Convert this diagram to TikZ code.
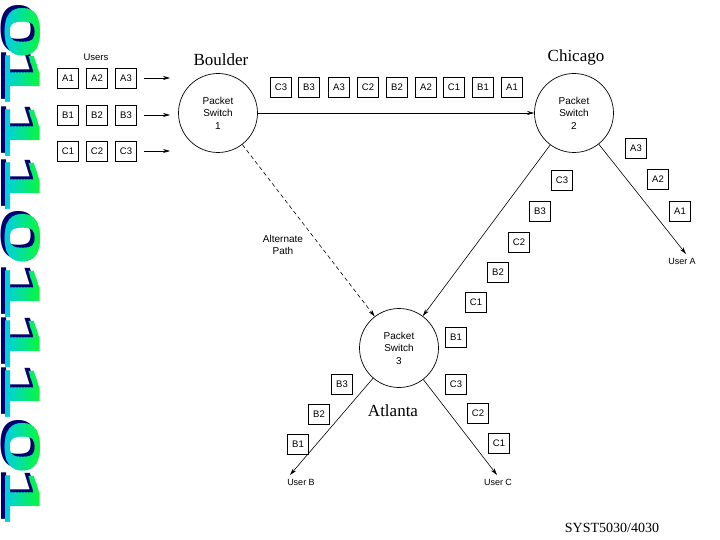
\documentclass[tikz,border=0pt]{standalone}
\usepackage{fontspec}
\setmainfont{Liberation Serif}
\newfontfamily\lab{Liberation Sans}
\usetikzlibrary{arrows.meta}
\definecolor{navyd}{RGB}{0,0,110}
\definecolor{cyanl}{RGB}{0,200,250}
\definecolor{greenr}{RGB}{10,252,40}
\begin{document}
\begin{tikzpicture}[x=1pt,y=-1pt,
  pkt/.style={draw, line width=0.75pt, minimum width=21pt, minimum height=20pt, inner sep=0pt, font=\lab\fontsize{9.5}{10}\selectfont},
  sw/.style={circle, draw, line width=0.7pt, minimum size=79pt, inner sep=0pt, align=center, font=\lab\fontsize{10}{12.5}\selectfont},
  arr/.style={line width=0.6pt, -{Stealth[length=7pt,width=4pt]}},
  city/.style={inner sep=0pt, font=\fontsize{17}{20}\selectfont},
  lbl/.style={inner sep=0pt, align=center, font=\lab\fontsize{9}{12}\selectfont},
  dig/.style={rotate=-90, inner sep=0pt, font=\lab\bfseries\fontsize{50}{50}\selectfont}]
\useasboundingbox (0,0) rectangle (720,540);
% left binary decoration
\foreach \d/\y [count=\i] in {0/32,1/77,1/131,1/184,0/238,1/292,1/342,1/392,0/447,1/497}{
  \node[dig, text=navyd] (sh\i) at (19,\y-3) {\scalebox{2}[1]{\d}};
}
\foreach \k in {0,...,14}{
  \pgfmathsetmacro\pc{100*\k/14}
  \begin{scope}
    \clip (\k*3,0) rectangle (\k*3+3.3,540);
    \foreach \d/\y [count=\i] in {0/32,1/77,1/131,1/184,0/238,1/292,1/342,1/392,0/447,1/497}{
      \node[dig, text=greenr!\pc!cyanl] (g\k-\i) at (23,\y) {\scalebox{2}[1]{\d}};
    }
  \end{scope}
}
% users
\node[lbl, font=\lab\fontsize{9.5}{12}\selectfont] (users) at (96,57) {Users};
\node[pkt] (ua1) at (68,78) {A1};
\node[pkt] (ua2) at (97,78) {A2};
\node[pkt] (ua3) at (126,78) {A3};
\node[pkt] (ub1) at (68,115) {B1};
\node[pkt] (ub2) at (97,115) {B2};
\node[pkt] (ub3) at (126,115) {B3};
\node[pkt] (uc1) at (68,151) {C1};
\node[pkt] (uc2) at (97,151) {C2};
\node[pkt] (uc3) at (126,151) {C3};
\coordinate (as) at (144,78); \coordinate (ae) at (170,78);
\coordinate (bs) at (144,115); \coordinate (be) at (170,115);
\coordinate (cs) at (144,151); \coordinate (ce) at (170,151);
\draw[arr] (as) -- (ae);
\draw[arr] (bs) -- (be);
\draw[arr] (cs) -- (ce);
% switches
\node[sw] (ps1) at (218,113) {Packet\\Switch\\1};
\node[sw] (ps2) at (574,113) {Packet\\Switch\\2};
\node[sw] (ps3) at (399,348) {Packet\\Switch\\3};
\node[city] (boulder) at (221,60) {Boulder};
\node[city] (chicago) at (576,57) {Chicago};
\node[city] (atlanta) at (393,411) {Atlanta};
\node[inner sep=0pt, font=\fontsize{14}{16}\selectfont] (syst) at (612,528) {SYST5030/4030};
% links
\draw[arr] (ps1) -- (ps2);
\draw[arr, dashed, dash pattern=on 4pt off 3pt] (ps1) -- (ps3);
\draw[arr] (ps2) -- (ps3);
\coordinate (usera) at (686,254);
\coordinate (userb) at (290,475);
\coordinate (userc) at (497,475);
\draw[arr] (ps2) -- (usera);
\draw[arr] (ps3) -- (userb);
\draw[arr] (ps3) -- (userc);
\node[lbl] (lua) at (682,261) {User A};
\node[lbl] (lub) at (301,482) {User B};
\node[lbl] (luc) at (498,482) {User C};
\node[lbl, font=\lab\fontsize{10}{12}\selectfont] (alt) at (283,245) {Alternate\\Path};
% packets on top link
\foreach \t/\x [count=\i] in {C3/281,B3/309,A3/339,C2/368,B2/397,A2/426,C1/454,B1/483,A1/512}{
  \node[pkt] (t\i) at (\x,87) {\t};
}
% packets toward switch 3
\node[pkt] (m1) at (562,180) {C3};
\node[pkt] (m2) at (540,211) {B3};
\node[pkt] (m3) at (519,242) {C2};
\node[pkt] (m4) at (498,272) {B2};
\node[pkt] (m5) at (476,302) {C1};
\node[pkt] (m6) at (456,337) {B1};
% packets toward user A
\node[pkt] (ra3) at (636,148) {A3};
\node[pkt] (ra2) at (658,179) {A2};
\node[pkt] (ra1) at (680,211) {A1};
% packets toward user B
\node[pkt] (lb3) at (342,384) {B3};
\node[pkt] (lb2) at (319,414) {B2};
\node[pkt] (lb1) at (298,444) {B1};
% packets toward user C
\node[pkt] (lc3) at (456,384) {C3};
\node[pkt] (lc2) at (478,413) {C2};
\node[pkt] (lc1) at (499,443) {C1};
\end{tikzpicture}
\end{document}
